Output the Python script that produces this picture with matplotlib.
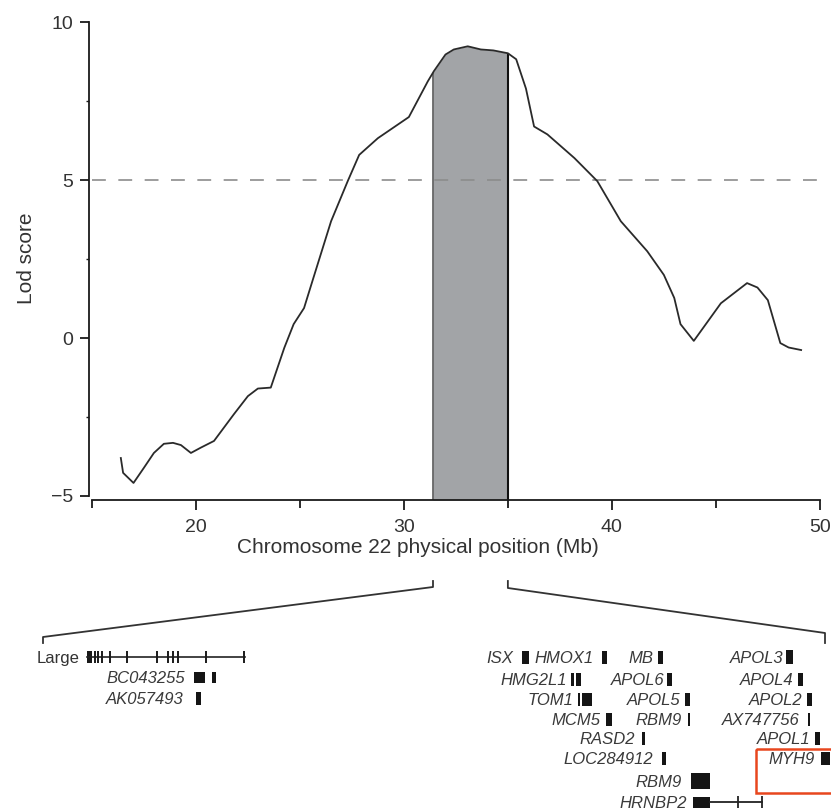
import numpy as np
import matplotlib
matplotlib.use('Agg')
import matplotlib.pyplot as plt
from matplotlib.patches import Rectangle

plt.rcParams['font.family'] = ['Liberation Sans', 'DejaVu Sans']

# LOD 曲线（Mb, LOD）
pos = [16.39, 16.5, 17.0, 17.5, 17.98, 18.46, 18.9, 19.28, 19.76, 20.24, 20.87,
       21.83, 22.5, 22.98, 23.6, 24.25, 24.7, 25.2, 25.6, 26.5, 27.3, 27.85,
       28.75, 30.24, 31.15, 31.44, 32.0, 32.4, 33.07, 33.7, 34.3, 35.0, 35.4,
       35.87, 36.26, 36.9, 38.2, 39.3, 40.43, 41.7, 42.5, 43.0, 43.3, 43.94,
       45.24, 46.5, 47.0, 47.5, 48.1, 48.5, 49.1]
lod = [-3.8, -4.27, -4.59, -4.11, -3.64, -3.35, -3.32, -3.39, -3.64, -3.47, -3.26,
       -2.41, -1.84, -1.6, -1.57, -0.31, 0.44, 0.95, 1.8, 3.7, 4.97, 5.8,
       6.33, 7.0, 8.13, 8.45, 8.98, 9.14, 9.24, 9.14, 9.11, 9.02, 8.83,
       7.9, 6.7, 6.45, 5.7, 4.97, 3.7, 2.75, 2.0, 1.27, 0.44, -0.09,
       1.1, 1.74, 1.6, 1.2, -0.16, -0.3, -0.38]
region = (31.4, 35.0)
threshold = 5

# 基因示意图（像素坐标）
large_span = (87, 245)
large_block = (87, 92)
large_ticks = [95, 98.3, 101.7, 110, 126.7, 156.7, 168.3, 173.3, 178.3, 205.7, 244.3]

gene_names = ['BC043255', 'AK057493', 'ISX', 'HMOX1', 'MB', 'APOL3', 'HMG2L1',
              'APOL6', 'APOL4', 'TOM1', 'APOL5', 'APOL2', 'MCM5', 'RBM9',
              'AX747756', 'RASD2', 'APOL1', 'LOC284912', 'MYH9', 'RBM9', 'HRNBP2']
gene_label_x = [185, 184, 513, 594, 653, 783, 567, 664, 793, 573, 680, 802,
                600, 682, 800, 635, 810, 653, 815, 682, 687]
gene_row_y = [677, 698, 657, 657, 657, 657, 679, 679, 679, 699, 699, 699,
              719, 719, 719, 738, 738, 758, 758, 781, 802]
gene_exons = [[(194, 205), (212, 216)], [(196, 201)], [(522, 529)], [(602, 607)],
              [(658, 663)], [(786, 793)], [(571, 574), (576, 581)], [(667, 672)],
              [(798, 803)], [(578, 580), (582, 592)], [(685, 690)], [(807, 812)],
              [(606, 612)], [(688, 690)], [(808, 810)], [(642, 645)], [(815, 820)],
              [(662, 666)], [(821, 830)], [(691, 710)], [(693, 710)]]
gene_h = [11, 13, 13, 13, 13, 14, 13, 13, 13, 13, 13, 13, 13, 13, 13, 13, 13,
          13, 13, 16, 11]
hrnbp2_tail = (710, 762)
hrnbp2_ticks = [738, 762]

fig = plt.figure(figsize=(8.31, 8.10), dpi=100)
ax = fig.add_axes([89 / 831, 1 - 500 / 810, 735 / 831, 484 / 810])
ax.set_xlim(14.86, 50.2)
ax.set_ylim(-5.13, 10.2)

# 阴影区间
xs = np.concatenate([[region[0]], [p for p in pos if region[0] < p < region[1]], [region[1]]])
ys = np.interp(xs, pos, lod)
ax.fill_between(xs, -5.13, ys, color='#a2a4a7', lw=0, zorder=1)
ax.vlines(region[0], -5.13, ys[0], colors='#5a5a5a', lw=1.2, zorder=2)
ax.vlines(region[1], -5.13, ys[-1], colors='#111111', lw=1.5, zorder=2)

ax.hlines(threshold, 15, 50, colors='#8c8c8c', lw=1.2,
          linestyles=(0, (8.3, 7.5)), zorder=2)
ax.plot(pos, lod, color='#2a2a2a', lw=1.3, zorder=3)

for s in ['top', 'right']:
    ax.spines[s].set_visible(False)
ax.spines['left'].set_bounds(-5, 10)
ax.spines['bottom'].set_bounds(15, 50)
for s in ['left', 'bottom']:
    ax.spines[s].set_linewidth(1.3)
    ax.spines[s].set_color('#1a1a1a')

ax.set_yticks([-5, 0, 5, 10])
ax.set_yticklabels(['\u22125', '0', '5', '10'])
ax.set_yticks([-2.5, 2.5, 7.5], minor=True)
ax.set_xticks([20, 30, 40, 50])
ax.set_xticks([15, 25, 35, 45], minor=True)
ax.tick_params(axis='y', which='major', length=6.5, width=1.3, pad=5,
               labelsize=14, labelcolor='#333333', color='#1a1a1a')
ax.tick_params(axis='y', which='minor', length=2.5, width=1.0, color='#1a1a1a')
ax.tick_params(axis='x', which='major', length=7, width=1.3, pad=7,
               labelsize=14, labelcolor='#333333', color='#1a1a1a')
ax.tick_params(axis='x', which='minor', length=5.5, width=1.3, color='#1a1a1a')

ax.set_xlabel('Chromosome 22 physical position (Mb)', fontsize=15, color='#333333')
ax.xaxis.set_label_coords((418 - 89) / 735, -0.099)
ax.xaxis.label.set_va('center')
ax.set_ylabel('Lod score', fontsize=15, color='#333333')
ax.yaxis.set_label_coords((27 - 89) / 735, 0.5)
ax.yaxis.label.set_va('center')

# 下方基因图层
gx = fig.add_axes([0, 0, 1, 1])
gx.set_xlim(0, 831)
gx.set_ylim(810, 0)
gx.axis('off')
gx.patch.set_visible(False)

xl = ax.transData.transform((region[0], 0))[0]
xr = ax.transData.transform((region[1], 0))[0]
gx.plot([xl, xl, 43, 43], [581, 587, 637, 643], color='#333333', lw=1.3)
gx.plot([xr, xr, 825, 825], [581, 588, 633, 643], color='#333333', lw=1.3)

# Large
gx.text(80, 663, 'Large', ha='right', va='baseline', fontsize=12, color='#333333')
gx.plot(large_span, [657, 657], color='#222222', lw=1.2)
gx.add_patch(Rectangle((large_block[0], 651), large_block[1] - large_block[0], 12,
                       color='#1a1a1a', lw=0))
gx.vlines(large_ticks, 651, 663, colors='#1a1a1a', lw=1.4)

for name, lx, ry, exons, h in zip(gene_names, gene_label_x, gene_row_y, gene_exons, gene_h):
    gx.text(lx, ry + 6, name, ha='right', va='baseline', fontsize=12,
            style='italic', color='#3a3a3a')
    for x0, x1 in exons:
        gx.add_patch(Rectangle((x0, ry - h / 2), x1 - x0, h, color='#151515', lw=0))

gx.plot(hrnbp2_tail, [802, 802], color='#222222', lw=1.3)
gx.vlines(hrnbp2_ticks, 796, 808, colors='#222222', lw=1.3)

gx.add_patch(Rectangle((756, 749), 100, 44, fill=False, edgecolor='#e8461e',
                       lw=1.8, clip_on=False))

fig.savefig('out.png', dpi=100, facecolor='white')
